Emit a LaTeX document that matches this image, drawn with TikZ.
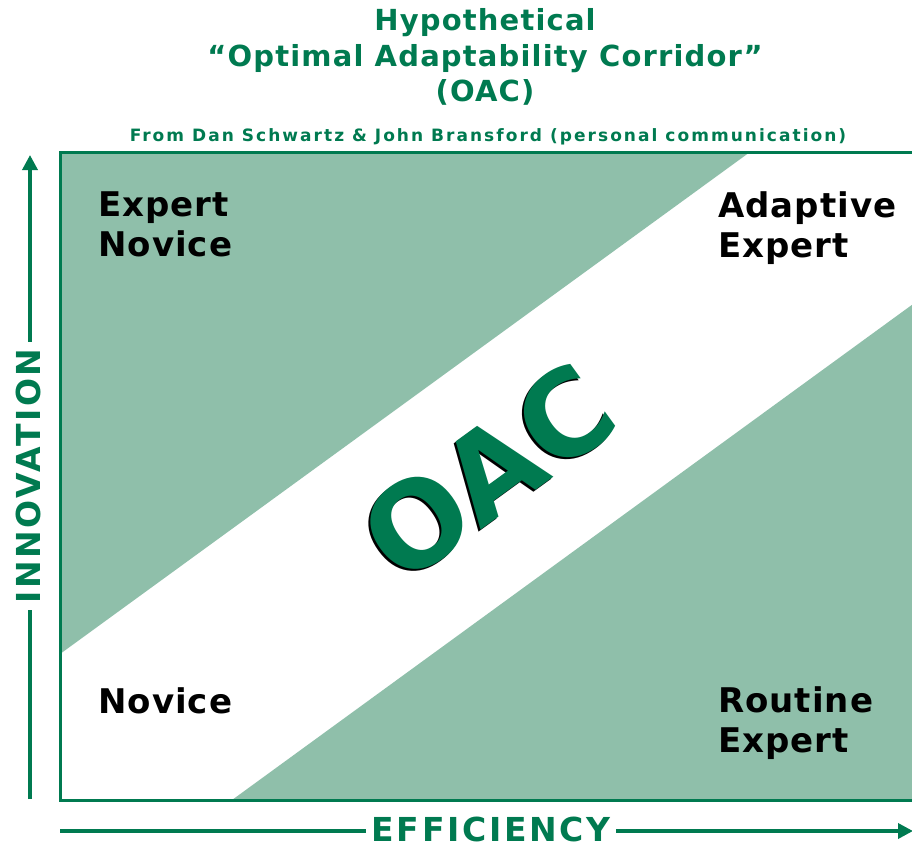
\documentclass[tikz,border=0pt]{standalone}
\usepackage{fontspec}
\setmainfont{DejaVu Sans}
\usetikzlibrary{arrows.meta}
\definecolor{oacdark}{RGB}{0,122,80}
\definecolor{oaclight}{RGB}{143,191,170}
\begin{document}
\begin{tikzpicture}[x=1pt,y=-1pt,
  axis/.style={draw=oacdark,line width=3.5pt},
  axistip/.style={-{Triangle[length=15pt,width=15pt]}},
  quad/.style={font=\fontsize{34}{40}\selectfont\bfseries\addfontfeature{LetterSpace=3},text=black,align=left,anchor=north west,inner sep=0pt},
  axislabel/.style={font=\fontsize{33}{36}\selectfont\bfseries\addfontfeature{LetterSpace=8},text=oacdark,fill=white,inner sep=6pt},
  title/.style={font=\fontsize{29}{35.5}\selectfont\bfseries\addfontfeature{LetterSpace=4},text=oacdark,align=center},
  credit/.style={font=\fontsize{17}{20}\selectfont\bfseries\addfontfeature{LetterSpace=12},text=oacdark},
  oac/.style={font=\fontsize{118}{118}\selectfont\bfseries,rotate=36,inner sep=0pt}]
\useasboundingbox (0,0) rectangle (912,843);
\begin{scope}
\clip (0,0) rectangle (912,843);

% quadrant field with the corridor left white
\fill[white] (60,152) rectangle (920,800);
\fill[oaclight] (60,152) -- (750,152) -- (60,654) -- cycle;
\fill[oaclight] (232,800) -- (920,299) -- (920,800) -- cycle;
\draw[oacdark,line width=3pt] (920,152) -- (60,152) -- (60,800) -- (920,800);

% axes
\coordinate (yorig) at (30,799);
\coordinate (ytop) at (30,155);
\coordinate (xorig) at (60,831);
\coordinate (xend) at (913,831);
\draw[axis,axistip,oacdark] (yorig) -- (ytop);
\draw[axis,axistip,oacdark] (xorig) -- (xend);
\node[axislabel,rotate=90] (innov) at (28,476) {INNOVATION};
\node[axislabel] (effic) at (491,829) {EFFICIENCY};

% titles
\node[title] (ttl) at (485,57) {Hypothetical\\“Optimal Adaptability Corridor”\\(OAC)};
\node[credit] (cred) at (488,137) {From Dan Schwartz \& John Bransford (personal communication)};

% quadrant labels
\node[quad] (en) at (98,192) {Expert\\Novice};
\node[quad] (ae) at (718,191) {Adaptive\\Expert};
\node[quad] (nv) at (98,687) {Novice};
\node[quad] (re) at (718,686) {Routine\\Expert};

% corridor label with its dark shadow
\node[oac,text=black] (oacsh) at (486,474) {OAC};
\node[oac,text=oacdark] (oactxt) at (488,472) {OAC};
\end{scope}
\end{tikzpicture}
\end{document}
